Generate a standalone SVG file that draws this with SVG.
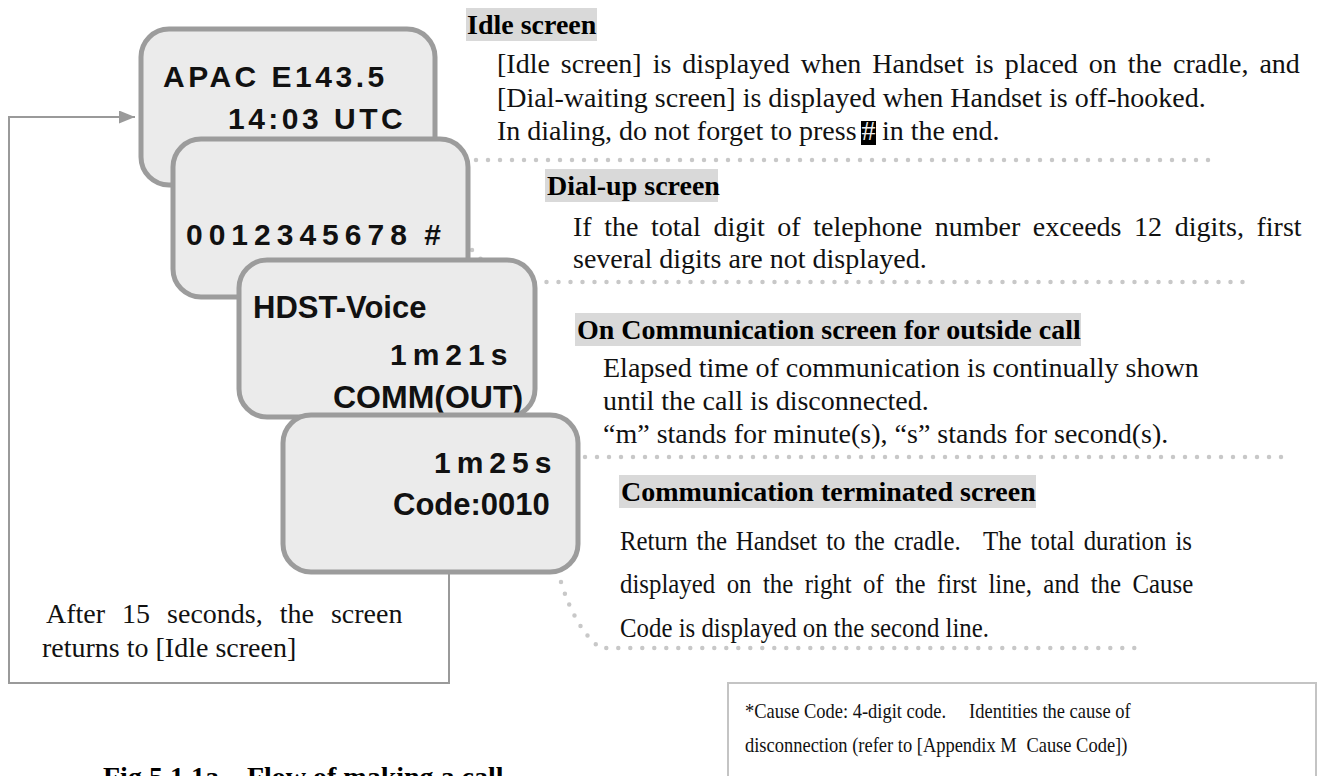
<svg xmlns="http://www.w3.org/2000/svg" width="1321" height="776" viewBox="0 0 1321 776">
<defs>
<style>
.scr{fill:#ebebeb;stroke:#9c9c9c;stroke-width:5}
.lcd{font-family:"Liberation Sans",Arial,sans-serif;font-weight:bold;font-size:30px;fill:#111}
.hd{font-family:"Liberation Serif","Times New Roman",serif;font-weight:bold;font-size:28px;fill:#000}
.hbg{fill:#d9d9d9}
.bd{font-family:"Liberation Serif","Times New Roman",serif;font-size:28px;fill:#111}
.bd2{font-family:"Liberation Serif","Times New Roman",serif;font-size:27px;fill:#111}
.bd3{font-family:"Liberation Serif","Times New Roman",serif;font-size:22px;fill:#111}
.dots{fill:none;stroke:#c8c8c8;stroke-width:4.5;stroke-dasharray:0 12;stroke-linecap:round}
.conn{fill:none;stroke:#9a9a9a;stroke-width:2}
</style>
<marker id="arr" markerUnits="userSpaceOnUse" markerWidth="17" markerHeight="14" refX="16" refY="6.5" orient="auto">
<path d="M0,0 L16,6.5 L0,13 z" fill="#9a9a9a"/>
</marker>
</defs>
<rect width="1321" height="776" fill="#fff"/>

<g id="connectors">
<polyline class="conn" points="449,572 449,683 9,683 9,117 135,117" marker-end="url(#arr)"/>
<path class="dots" d="M440 160 L1218 160"/>
<path class="dots" d="M472 250 Q500 282 540 282 L1248 282"/>
<path class="dots" d="M585 457 L1283 457"/>
<path class="dots" d="M561 582 Q575 628 600 648 L1142 648"/>
</g>

<g id="idle-screen">
<rect class="scr" x="141" y="29" width="294" height="156" rx="28"/>
<text class="lcd" x="163" y="87" letter-spacing="3.5">APAC E143.5</text>
<text class="lcd" x="228" y="129" letter-spacing="3.5">14:03 UTC</text>
</g>
<g id="dialup-screen">
<rect class="scr" x="173" y="139" width="295" height="158" rx="28"/>
<text class="lcd" x="186" y="245" letter-spacing="6">0012345678<tspan dx="-3"> #</tspan></text>
</g>
<g id="comm-screen">
<rect class="scr" x="239" y="260" width="296" height="157" rx="28"/>
<text class="lcd" x="253" y="318" style="font-size:31px">HDST-Voice</text>
<text class="lcd" x="390" y="365" letter-spacing="6">1m21s</text>
<text class="lcd" x="333" y="408" style="font-size:32px">COMM(OUT)</text>
</g>
<g id="terminated-screen">
<rect class="scr" x="283" y="415" width="295" height="157" rx="28"/>
<text class="lcd" x="434" y="473" letter-spacing="6">1m25s</text>
<text class="lcd" x="393" y="515" style="font-size:31px">Code:0010</text>
</g>

<g id="idle-desc">
<rect class="hbg" x="466" y="8" width="131" height="33"/>
<text class="hd" x="467" y="34">Idle screen</text>
<text class="bd" x="497" y="73" word-spacing="4">[Idle screen] is displayed when Handset is placed on the cradle, and</text>
<text class="bd" x="497" y="107">[Dial-waiting screen] is displayed when Handset is off-hooked.</text>
<rect x="861" y="121" width="15" height="24" fill="#000"/>
<text class="bd" x="497" y="140">In dialing, do not forget to press</text>
<text class="bd" x="861.5" y="140" style="fill:#eee">#</text>
<text class="bd" x="882" y="140">in the end.</text>
</g>

<g id="dialup-desc">
<rect class="hbg" x="545" y="169" width="173" height="33"/>
<text class="hd" x="547" y="195">Dial-up screen</text>
<text class="bd" x="573" y="236" word-spacing="5.6">If the total digit of telephone number exceeds 12 digits, first</text>
<text class="bd" x="573" y="268">several digits are not displayed.</text>
</g>

<g id="comm-desc">
<rect class="hbg" x="575" y="313" width="506" height="33"/>
<text class="hd" x="577" y="339">On Communication screen for outside call</text>
<text class="bd" x="603" y="377">Elapsed time of communication is continually shown</text>
<text class="bd" x="603" y="410">until the call is disconnected.</text>
<text class="bd" x="603" y="443">“m” stands for minute(s), “s” stands for second(s).</text>
</g>

<g id="terminated-desc">
<rect class="hbg" x="619" y="475" width="417" height="33"/>
<text class="hd" x="621" y="501">Communication terminated screen</text>
<g transform="translate(620,0) scale(0.92,1)">
<text class="bd2" x="0" y="550" word-spacing="3">Return the Handset to the cradle.<tspan dx="15"> The total duration is</tspan></text>
<text class="bd2" x="0" y="593" word-spacing="5.7">displayed on the right of the first line, and the Cause</text>
<text class="bd2" x="0" y="637">Code is displayed on the second line.</text>
</g>
</g>

<g id="return-note">
<text class="bd" x="46" y="623" word-spacing="10">After 15 seconds, the screen</text>
<text class="bd" x="42" y="657">returns to [Idle screen]</text>
</g>

<g id="cause-note">
<rect x="728" y="683" width="588" height="130" fill="#fff" stroke="#c4c4c4" stroke-width="2"/>
<g transform="translate(745,0) scale(0.84,1)">
<text class="bd3" x="0" y="718">*Cause Code: 4-digit code.<tspan dx="22"> Identities the cause of</tspan></text>
<text class="bd3" x="0" y="752">disconnection (refer to [Appendix M<tspan dx="6"> Cause Code])</tspan></text>
</g>
</g>

<g id="caption">
<text class="hd" x="103" y="786">Fig 5.1.1a<tspan dx="28">Flow of making a call</tspan></text>
</g>
</svg>
